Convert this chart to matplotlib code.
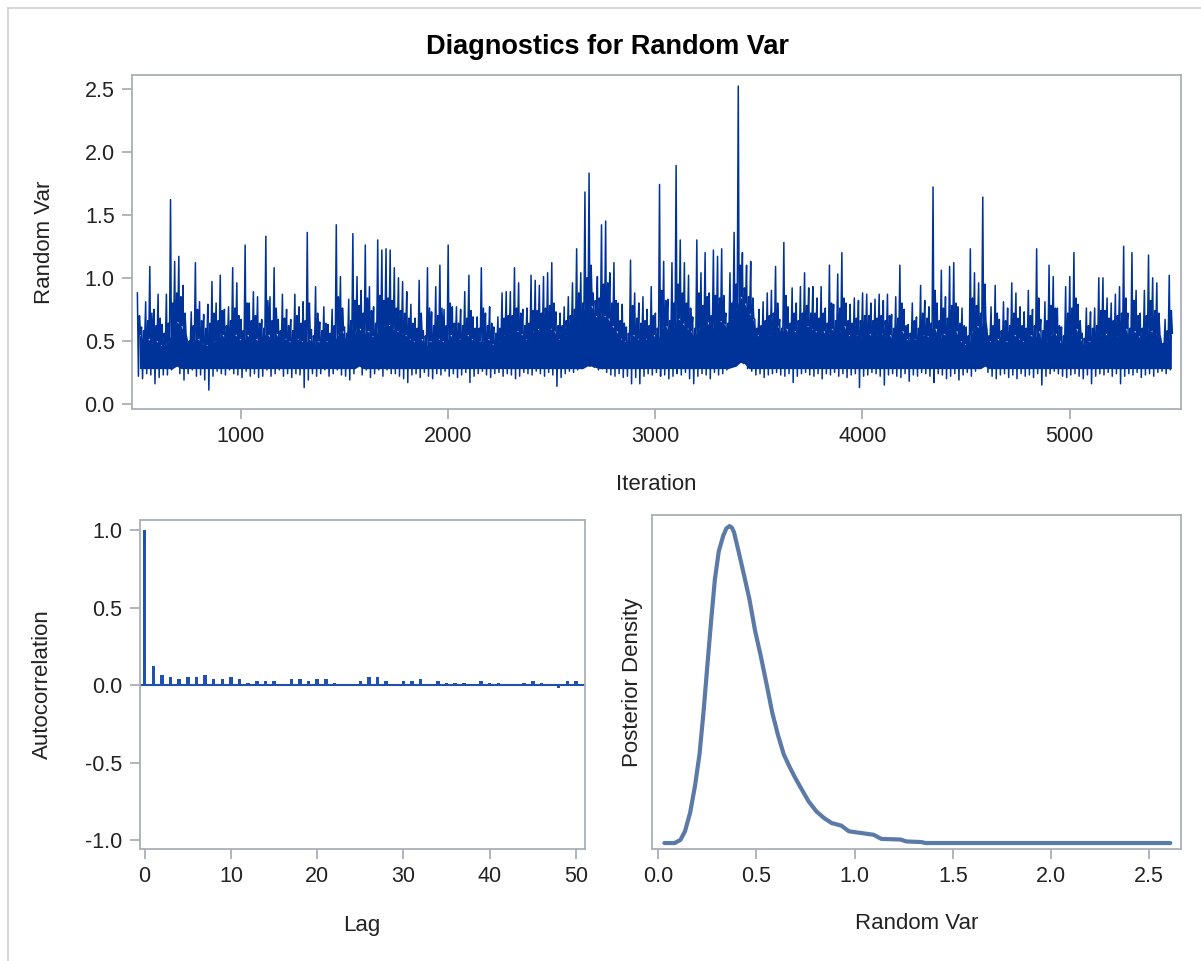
import numpy as np
import matplotlib
matplotlib.use("Agg")
import matplotlib.pyplot as plt
from matplotlib.lines import Line2D

plt.rcParams["font.family"] = ["Liberation Sans", "DejaVu Sans"]

# trace: per block of 20 iterations, the highest spike, the bottom, a second
# spike and the top of the solid core (hundredths)
trace_start = 501
trace_block = 20
trace_hi = [
    88, 61, 81, 109, 75, 87, 63, 87, 162, 113,
    117, 94, 51, 73, 112, 81, 71, 79, 97, 80,
    102, 75, 77, 108, 96, 67, 126, 80, 89, 85,
    67, 133, 85, 108, 67, 87, 75, 67, 87, 77,
    81, 136, 59, 93, 65, 77, 63, 75, 142, 101,
    61, 83, 135, 101, 90, 126, 93, 77, 130, 122,
    123, 122, 108,
    100, 97, 89, 79, 68, 98, 58, 108, 73, 93,
    110, 75, 126, 77, 77, 75, 89, 102, 69, 69,
    108, 72, 77, 61, 69, 88, 89, 89, 108, 96,
    75, 76, 102, 98, 94, 101, 104, 112, 73, 72,
    77, 85, 96, 123, 104, 168, 183, 88, 101, 142,
    145, 104, 112, 80, 79, 61, 114, 88, 80, 85,
    75, 93, 72, 174,
    113, 83, 112, 189, 130, 112, 102, 69, 130, 104,
    120, 88, 122, 117, 123, 72, 104, 136, 252, 120,
    110, 113, 67, 75, 81, 88, 90, 109, 67, 128,
    77, 92, 80, 93, 104, 92, 93, 84, 93, 76,
    110, 79, 103, 120, 80, 79, 84, 82, 88, 87,
    80, 83, 87, 82, 87, 71, 85, 110, 75, 63,
    80, 69, 94, 82,
    77, 172, 80, 106, 85, 109, 112, 77, 76, 61,
    123, 104, 96, 164, 59, 77, 94, 67, 81, 76,
    96, 88, 77, 73, 90, 75, 123, 67, 81, 110,
    101, 76, 61, 93, 101, 120, 79, 56, 76, 73,
    76, 100, 100, 84, 80, 87, 93, 125, 72, 120,
    90, 72, 90, 118, 100, 96, 51, 67, 102,
]
trace_lo = [
    22, 20, 24, 23, 16, 21, 23, 23, 27, 30,
    24, 19, 24, 27, 22, 23, 19, 11, 22, 26,
    24, 23, 27, 24, 23, 21, 26, 22, 24, 21,
    22, 27, 22, 24, 27, 22, 24, 21, 24, 23,
    13, 19, 24, 22, 24, 27, 22, 24, 27, 23,
    22, 19, 24, 30, 23, 27, 21, 24, 27, 22,
    27, 24, 24,
    22, 20, 17, 23, 24, 21, 25, 22, 20, 24,
    23, 26, 22, 24, 21, 23, 25, 17, 22, 24,
    26, 23, 21, 24, 25, 22, 24, 23, 20, 22,
    25, 24, 23, 26, 24, 22, 25, 23, 14, 21,
    24, 26, 25, 27, 28, 30, 30, 29, 27, 28,
    25, 23, 22, 24, 21, 22, 16, 21, 16, 22,
    24, 23, 25, 22,
    23, 20, 22, 24, 23, 25, 20, 16, 22, 24,
    23, 20, 25, 23, 24, 27, 29, 30, 33, 32,
    28, 26, 23, 24, 21, 23, 24, 25, 23, 22,
    24, 17, 22, 24, 25, 23, 22, 24, 20, 24,
    23, 25, 22, 24, 21, 23, 24, 13, 22, 23,
    25, 24, 22, 15, 23, 24, 22, 21, 24, 18,
    23, 22, 25, 24,
    22, 17, 24, 23, 20, 22, 24, 19, 23, 25,
    22, 26, 28, 30, 25, 22, 20, 23, 24, 21,
    23, 20, 24, 22, 23, 21, 24, 15, 22, 24,
    26, 24, 22, 21, 23, 24, 22, 20, 23, 16,
    22, 24, 23, 25, 22, 24, 16, 22, 24, 23,
    25, 21, 23, 24, 22, 25, 26, 24, 27,
]
trace_mid = [
    70, 58, 66, 72, 62, 68, 56, 64, 80, 88,
    85, 72, 50, 62, 75, 66, 60, 64, 72, 66,
    74, 62, 66, 76, 70, 58, 80, 66, 70, 64,
    60, 82, 66, 76, 58, 68, 62, 58, 70, 64,
    66, 80, 54, 72, 58, 64, 56, 62, 85, 76,
    56, 66, 82, 78, 72, 84, 74, 64, 86, 82,
    84, 82, 76,
    74, 72, 68, 64, 60, 72, 54, 76, 62, 70,
    76, 62, 80, 64, 64, 62, 68, 74, 60, 60,
    76, 62, 64, 56, 60, 68, 70, 70, 76, 72,
    62, 64, 74, 74, 72, 76, 78, 80, 62, 62,
    66, 70, 75, 88, 80, 100, 110, 82, 84, 95,
    96, 80, 82, 66, 64, 56, 78, 68, 64, 66,
    62, 70, 60, 90,
    82, 66, 80, 95, 88, 80, 76, 60, 88, 78,
    85, 70, 86, 84, 86, 64, 80, 95, 110, 92,
    85, 84, 60, 62, 66, 70, 72, 80, 60, 86,
    64, 72, 66, 72, 78, 72, 72, 68, 72, 64,
    80, 66, 76, 84, 66, 64, 68, 66, 70, 70,
    66, 68, 70, 66, 70, 60, 68, 80, 62, 56,
    66, 60, 72, 68,
    64, 90, 66, 76, 68, 78, 80, 64, 62, 54,
    84, 78, 72, 95, 54, 62, 72, 58, 66, 62,
    72, 68, 62, 60, 70, 62, 84, 58, 66, 78,
    76, 62, 54, 72, 76, 84, 66, 52, 62, 60,
    62, 74, 74, 68, 66, 70, 72, 84, 60, 82,
    70, 60, 70, 82, 74, 72, 48, 58, 74,
]
trace_core = [
    55, 50, 52, 48, 50, 47, 45, 50, 58, 65,
    62, 55, 46, 50, 52, 48, 47, 45, 50, 52,
    55, 50, 53, 55, 52, 48, 55, 50, 52, 48,
    50, 55, 50, 56, 48, 52, 50, 47, 52, 50,
    48, 52, 45, 50, 47, 50, 48, 50, 55, 58,
    48, 52, 57, 60, 55, 58, 54, 52, 60, 62,
    63, 60, 58,
    56, 55, 52, 50, 48, 52, 45, 50, 48, 52,
    50, 48, 55, 50, 52, 50, 55, 52, 48, 50,
    50, 52, 48, 45, 50, 55, 56, 55, 58, 56,
    52, 50, 58, 60, 56, 58, 60, 58, 52, 50,
    55, 58, 62, 66, 68, 72, 78, 70, 66, 70,
    68, 62, 58, 52, 50, 48, 55, 52, 50, 52,
    50, 55, 50, 60,
    62, 55, 62, 68, 64, 60, 58, 52, 60, 62,
    65, 58, 64, 66, 64, 58, 68, 76, 85, 80,
    72, 68, 55, 52, 52, 55, 58, 62, 55, 60,
    52, 58, 55, 58, 62, 60, 58, 55, 58, 52,
    60, 55, 58, 62, 55, 52, 55, 54, 55, 56,
    52, 55, 56, 54, 55, 48, 52, 58, 52, 48,
    52, 50, 55, 54,
    52, 60, 50, 56, 52, 56, 58, 50, 48, 45,
    58, 62, 58, 66, 50, 48, 52, 46, 50, 48,
    55, 52, 50, 48, 55, 50, 58, 45, 50, 55,
    56, 50, 45, 52, 55, 60, 52, 45, 50, 48,
    50, 55, 56, 52, 52, 54, 56, 60, 50, 58,
    54, 50, 55, 58, 56, 55, 45, 50, 56,
]

acf_lags = list(range(51))
acf_vals = [
    1.0, 0.12, 0.064, 0.05, 0.036, 0.05, 0.05, 0.064, 0.036, 0.036,
    0.05, 0.036, 0.015, 0.025, 0.025, 0.025, 0.0, 0.036, 0.036, 0.025,
    0.036, 0.036, 0.015, 0.0, 0.0, 0.025, 0.05, 0.05, 0.025, 0.0,
    0.025, 0.025, 0.036, 0.0, 0.025, 0.015, 0.015, 0.015, 0.0, 0.025,
    0.015, 0.015, 0.0, 0.0, 0.015, 0.025, 0.015, 0.0, -0.017, 0.025,
    0.025,
]

dens_x = [0.031, 0.084, 0.113, 0.136, 0.162, 0.187, 0.21, 0.23, 0.25, 0.269,
          0.288, 0.308, 0.331, 0.347, 0.363, 0.375, 0.386, 0.409, 0.435, 0.464,
          0.493, 0.522, 0.552, 0.581, 0.61, 0.639, 0.669, 0.698, 0.727, 0.766,
          0.805, 0.844, 0.883, 0.932, 0.971, 1.029, 1.097, 1.136, 1.234, 1.263,
          1.341, 1.36, 2.608]
dens_y = [0.0, 0.0, 0.01, 0.037, 0.095, 0.18, 0.28, 0.41, 0.56, 0.70,
          0.83, 0.92, 0.97, 0.993, 1.0, 0.995, 0.98, 0.92, 0.85, 0.77,
          0.67, 0.59, 0.50, 0.41, 0.34, 0.28, 0.24, 0.205, 0.173, 0.131,
          0.10, 0.079, 0.063, 0.055, 0.037, 0.032, 0.026, 0.013, 0.011, 0.005,
          0.003, 0.0, 0.0]

FRAME = "#aab0b6"
TEXT = "#222222"
TRACE = "#003399"


def style_axes(ax):
    for sp in ax.spines.values():
        sp.set_color(FRAME)
        sp.set_linewidth(1.3)
    ax.tick_params(colors=FRAME, labelcolor=TEXT, length=7.5, width=1.3,
                   labelsize=15.5, pad=5)


def place_label(ax, axis, text, x, y):
    lab = ax.set_xlabel(text) if axis == "x" else ax.set_ylabel(text)
    lab.set_fontsize(16)
    lab.set_color(TEXT)
    getattr(ax, axis + "axis").set_label_coords(x, y)
    lab.set_verticalalignment("center")
    lab.set_horizontalalignment("center")


fig = plt.figure(figsize=(12.01, 9.61), dpi=100)

# trace plot: solid core band plus the spikes and dips around it
ax_tr = fig.add_axes([0.1099, 0.5744, 0.8735, 0.3476])
it = trace_start + trace_block * np.arange(len(trace_hi))
hi = np.array(trace_hi) / 100.0
lo = np.array(trace_lo) / 100.0
mid = np.array(trace_mid) / 100.0
core = np.array(trace_core) / 100.0
ax_tr.fill_between(it + 10, np.maximum(lo, 0.28), core, color=TRACE, lw=0)
xs = np.column_stack([it, it + 5, it + 10, it + 15]).ravel()
ys = np.column_stack([hi, lo, mid, core]).ravel()
ax_tr.plot(xs, ys, color=TRACE, lw=1.1)
ax_tr.set_xlim(475, 5538)
ax_tr.set_ylim(-0.04, 2.608)
ax_tr.set_xticks([1000, 2000, 3000, 4000, 5000])
ax_tr.set_yticks([0.0, 0.5, 1.0, 1.5, 2.0, 2.5])
ax_tr.set_yticklabels([f"{v:.1f}" for v in ax_tr.get_yticks()])
style_axes(ax_tr)
place_label(ax_tr, "y", "Random Var", -0.083, 0.5)
place_label(ax_tr, "x", "Iteration", 0.5, -0.2275)

# autocorrelation
ax_ac = fig.add_axes([0.1163, 0.1165, 0.3706, 0.3424])
ax_ac.axhline(0, color="#2151b0", lw=1.5)
ax_ac.bar(acf_lags, acf_vals, width=0.4, color="#2151b0")
ax_ac.set_xlim(-0.58, 51.02)
ax_ac.set_ylim(-1.058, 1.065)
ax_ac.set_xticks([0, 10, 20, 30, 40, 50])
ax_ac.set_yticks([-1.0, -0.5, 0.0, 0.5, 1.0])
ax_ac.set_yticklabels([f"{v:.1f}" for v in ax_ac.get_yticks()])
style_axes(ax_ac)
place_label(ax_ac, "y", "Autocorrelation", -0.2195, 0.5)
place_label(ax_ac, "x", "Lag", 0.5, -0.231)

# posterior density
ax_de = fig.add_axes([0.5432, 0.1165, 0.4401, 0.3476])
ax_de.plot(dens_x, dens_y, color="#5b7aa8", lw=3.0, solid_capstyle="round",
           solid_joinstyle="round")
ax_de.set_xlim(-0.03, 2.662)
ax_de.set_ylim(-0.019, 1.035)
ax_de.set_xticks([0.0, 0.5, 1.0, 1.5, 2.0, 2.5])
ax_de.set_xticklabels([f"{v:.1f}" for v in ax_de.get_xticks()])
ax_de.set_yticks([])
style_axes(ax_de)
place_label(ax_de, "y", "Posterior Density", -0.0376, 0.5)
place_label(ax_de, "x", "Random Var", 0.5, -0.2216)

fig.text(0.5058, 1 - 47 / 961, "Diagnostics for Random Var", ha="center",
         va="center", fontsize=19.5, fontweight="bold", color="black")

# thin outer frame on the left and top edges
fig.add_artist(Line2D([7.5 / 1201, 7.5 / 1201], [0, 1 - 7.5 / 961],
                      color="#cfcfcf", lw=1.2))
fig.add_artist(Line2D([7.5 / 1201, 1], [1 - 7.5 / 961, 1 - 7.5 / 961],
                      color="#cfcfcf", lw=1.2))

fig.savefig("out.png", dpi=100)
